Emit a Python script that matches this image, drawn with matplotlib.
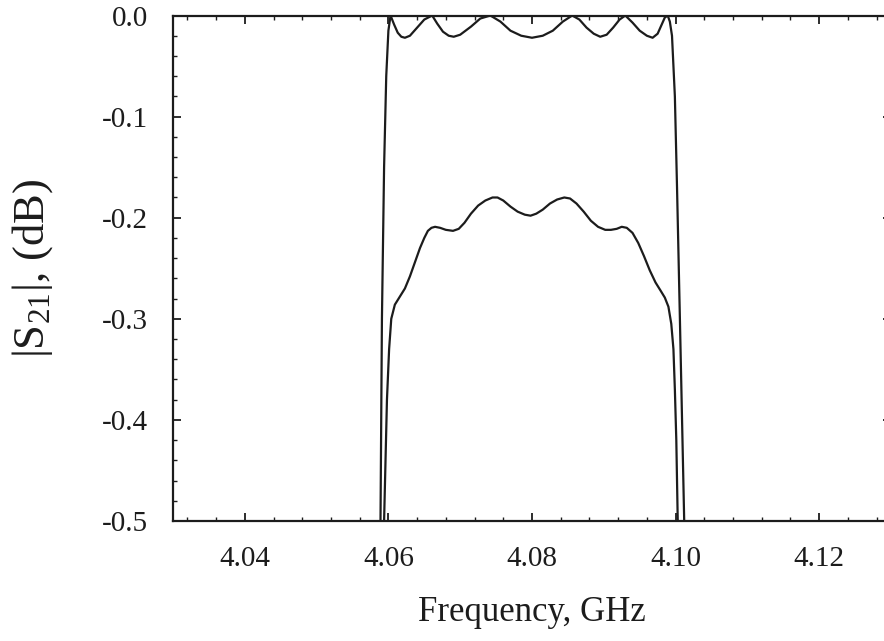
import numpy as np
import matplotlib.pyplot as plt
from matplotlib.ticker import MultipleLocator, FormatStrFormatter

# lossless response (outer curve)
f_ideal = [4.0589, 4.0591, 4.0594, 4.0597, 4.0600, 4.0603, 4.0608, 4.0613, 4.0618, 4.0623,
           4.0630, 4.0640, 4.0650, 4.0661, 4.0668, 4.0676, 4.0684, 4.0691, 4.0700, 4.0715,
           4.0728, 4.0742, 4.0756, 4.0770, 4.0785, 4.0800, 4.0815, 4.0829, 4.0843, 4.0856,
           4.0866, 4.0876, 4.0886, 4.0895, 4.0904, 4.0913, 4.0922, 4.0930, 4.0940, 4.0950,
           4.0960, 4.0968, 4.0975, 4.0980, 4.0985, 4.0989, 4.0992, 4.0995, 4.0999, 4.1002,
           4.1006, 4.1012]
s_ideal = [-0.50, -0.30, -0.15, -0.06, -0.015, 0.0, -0.009, -0.017, -0.021, -0.022,
           -0.020, -0.012, -0.004, 0.0, -0.008, -0.016, -0.020, -0.021, -0.019, -0.011,
           -0.003, 0.0, -0.006, -0.015, -0.020, -0.022, -0.020, -0.015, -0.006, 0.0,
           -0.004, -0.012, -0.018, -0.021, -0.019, -0.012, -0.004, 0.0, -0.007, -0.015,
           -0.020, -0.022, -0.018, -0.010, -0.002, 0.0, -0.006, -0.02, -0.08, -0.17,
           -0.30, -0.50]

# lossy response (inner curve)
f_lossy = [4.0594, 4.0596, 4.0598, 4.0601, 4.0604, 4.0609, 4.0616, 4.0623, 4.0630, 4.0637,
           4.0644, 4.0650, 4.0655, 4.0660, 4.0665, 4.0672, 4.0680, 4.0690, 4.0698, 4.0706,
           4.0715, 4.0725, 4.0735, 4.0745, 4.0752, 4.0760, 4.0770, 4.0780, 4.0790, 4.0798,
           4.0806, 4.0815, 4.0825, 4.0835, 4.0845, 4.0853, 4.0862, 4.0872, 4.0882, 4.0892,
           4.0902, 4.0910, 4.0918, 4.0925, 4.0932, 4.0940, 4.0948, 4.0956, 4.0964, 4.0972,
           4.0979, 4.0985, 4.0990, 4.0994, 4.0997, 4.0999, 4.1001, 4.1003]
s_lossy = [-0.50, -0.44, -0.38, -0.33, -0.30, -0.286, -0.278, -0.270, -0.258, -0.244,
           -0.230, -0.220, -0.213, -0.210, -0.209, -0.210, -0.212, -0.213, -0.211, -0.205,
           -0.196, -0.188, -0.183, -0.180, -0.180, -0.183, -0.189, -0.194, -0.197, -0.198,
           -0.196, -0.192, -0.186, -0.182, -0.180, -0.181, -0.186, -0.194, -0.203, -0.209,
           -0.212, -0.212, -0.211, -0.209, -0.210, -0.215, -0.225, -0.238, -0.252, -0.264,
           -0.272, -0.279, -0.288, -0.305, -0.33, -0.37, -0.42, -0.50]

plt.rcParams['font.family'] = ['Liberation Serif', 'DejaVu Serif']
plt.rcParams['mathtext.fontset'] = 'custom'
plt.rcParams['mathtext.rm'] = 'Liberation Serif'
plt.rcParams['mathtext.default'] = 'rm'
plt.rcParams['axes.unicode_minus'] = False

ink = '#1c1c1c'
fig = plt.figure(figsize=(8.84, 6.41), dpi=100)
ax = fig.add_axes([0.1957, 0.1872, 0.8122, 0.7886])

ax.plot(f_ideal, s_ideal, color=ink, lw=1.6)
ax.plot(f_lossy, s_lossy, color=ink, lw=1.6)

ax.set_xlim(4.03, 4.13)
ax.set_ylim(-0.5, 0.0)
ax.xaxis.set_major_locator(MultipleLocator(0.02))
ax.xaxis.set_minor_locator(MultipleLocator(0.004))
ax.yaxis.set_major_locator(MultipleLocator(0.1))
ax.yaxis.set_minor_locator(MultipleLocator(0.02))
ax.xaxis.set_major_formatter(FormatStrFormatter('%.2f'))
ax.yaxis.set_major_formatter(FormatStrFormatter('%.1f'))

ax.tick_params(which='both', direction='in', top=True, right=True, color=ink,
               labelcolor=ink, labelsize=21, pad=18)
ax.tick_params(which='major', length=5.5, width=1.3)
ax.tick_params(which='minor', length=3, width=1.0)
for sp in ax.spines.values():
    sp.set_linewidth(1.6)
    sp.set_color(ink)

ax.set_xlabel('Frequency, GHz', fontsize=25, color=ink)
ax.set_ylabel('|S$_{21}$|, (dB)', fontsize=32, color=ink)
ax.xaxis.set_label_coords(0.5, -0.148)
ax.yaxis.set_label_coords(-0.164, 0.5)

fig.savefig('out.png', dpi=100, facecolor='white')
